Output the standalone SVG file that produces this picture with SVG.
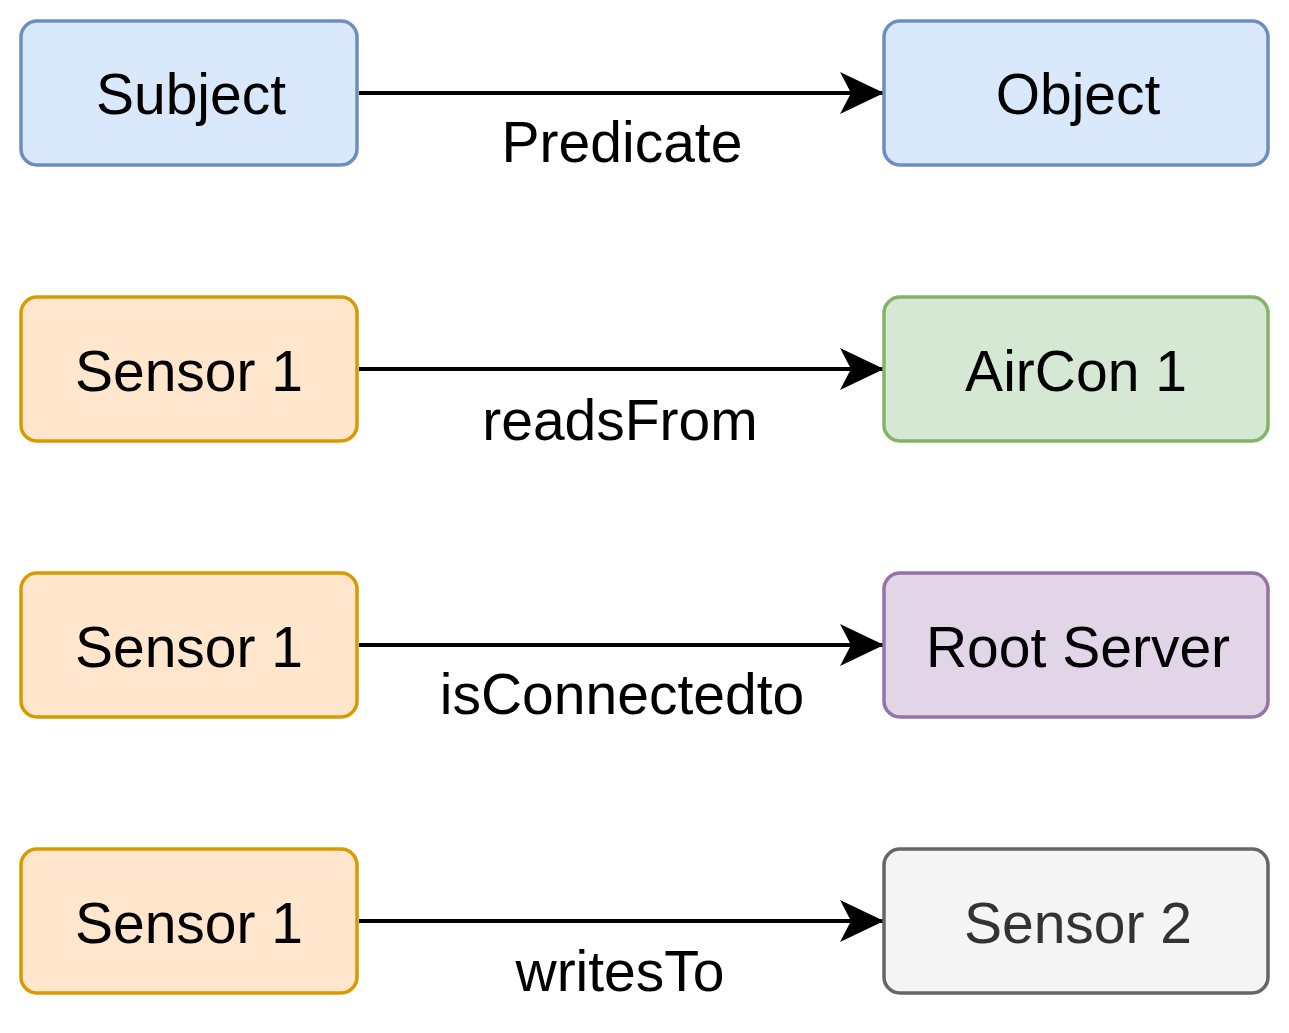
<svg xmlns="http://www.w3.org/2000/svg" width="1289" height="1033" viewBox="0 0 1289 1033">
<style>
.box{stroke-width:3.5}
.blue{fill:#dae8fc;stroke:#6c8ebf}
.orange{fill:#ffe6cc;stroke:#d79b00}
.green{fill:#d5e8d4;stroke:#82b366}
.purple{fill:#e1d5e7;stroke:#9673a6}
.grey{fill:#f5f5f5;stroke:#666666}
text{font-family:"Liberation Sans",Arial,Helvetica,sans-serif;font-size:57px;text-anchor:middle;fill:#000}
.edge{stroke:#000;stroke-width:4;fill:none}
</style>
<defs>
<marker id="arr" markerUnits="userSpaceOnUse" markerWidth="50" markerHeight="50" refX="44" refY="21" orient="auto">
<path d="M0,0 L44,21 L0,42 L11,21 Z" fill="#000"/>
</marker>
</defs>
<rect width="1289" height="1033" fill="#fff"/>
<g id="connectors">
<g id="e1"><path class="edge" d="M359,93 L884,93" marker-end="url(#arr)"/><text x="622" y="162">Predicate</text></g>
<g id="e2"><path class="edge" d="M359,369 L884,369" marker-end="url(#arr)"/><text x="620" y="440">readsFrom</text></g>
<g id="e3"><path class="edge" d="M359,645 L884,645" marker-end="url(#arr)"/><text x="622" y="714">isConnectedto</text></g>
<g id="e4"><path class="edge" d="M359,921 L884,921" marker-end="url(#arr)"/><text x="620" y="991">writesTo</text></g>
</g>
<g id="subject"><rect class="box blue" x="21" y="21" width="336" height="144" rx="16"/><text x="191" y="114">Subject</text></g>
<g id="object"><rect class="box blue" x="884" y="21" width="384" height="144" rx="16"/><text x="1078" y="114">Object</text></g>
<g id="sensor1a"><rect class="box orange" x="21" y="297" width="336" height="144" rx="16"/><text x="189" y="391">Sensor 1</text></g>
<g id="aircon1"><rect class="box green" x="884" y="297" width="384" height="144" rx="16"/><text x="1076" y="391">AirCon 1</text></g>
<g id="sensor1b"><rect class="box orange" x="21" y="573" width="336" height="144" rx="16"/><text x="189" y="667">Sensor 1</text></g>
<g id="rootserver"><rect class="box purple" x="884" y="573" width="384" height="144" rx="16"/><text x="1078" y="667">Root Server</text></g>
<g id="sensor1c"><rect class="box orange" x="21" y="849" width="336" height="144" rx="16"/><text x="189" y="943">Sensor 1</text></g>
<g id="sensor2"><rect class="box grey" x="884" y="849" width="384" height="144" rx="16"/><text x="1078" y="943" style="fill:#333333">Sensor 2</text></g>
</svg>
